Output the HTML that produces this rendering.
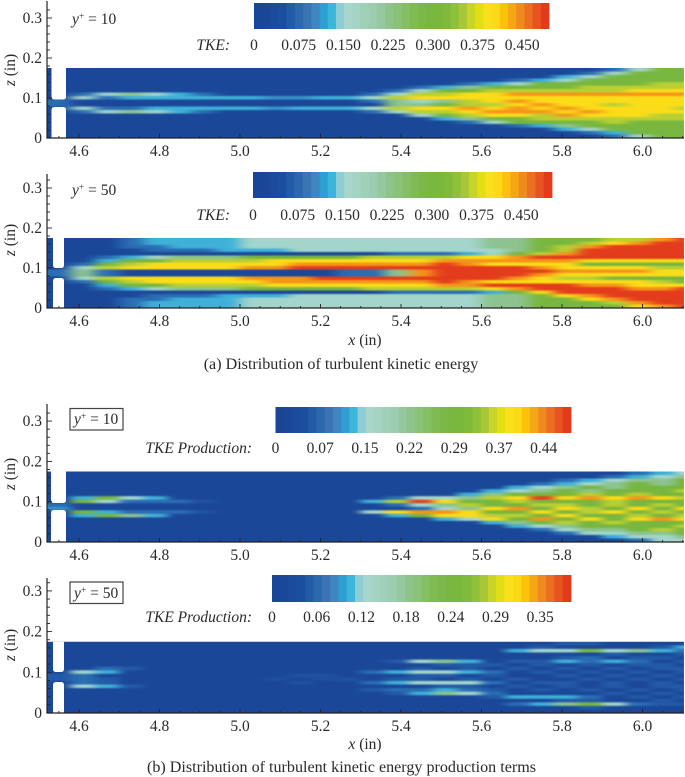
<!DOCTYPE html>
<html><head><meta charset="utf-8"><title>TKE distributions</title>
<style>
html,body{margin:0;padding:0;background:#fff;width:685px;height:777px;overflow:hidden}
svg{display:block}
text{font-family:"Liberation Serif",serif;font-size:15.5px;fill:#2a2a2a}
text.cap{font-size:16.1px}
.i{font-style:italic}
</style></head>
<body>
<svg id="chart" xmlns="http://www.w3.org/2000/svg" width="685" height="777" viewBox="0 0 685 777">
<defs>
<filter id="smear" filterUnits="userSpaceOnUse" x="-100" y="0" width="900" height="777" color-interpolation-filters="sRGB"><feGaussianBlur stdDeviation="7 0.9"/></filter>
<filter id="smear-fine" filterUnits="userSpaceOnUse" x="-100" y="0" width="900" height="777" color-interpolation-filters="sRGB"><feGaussianBlur stdDeviation="5 0.7"/></filter>
</defs>
<g id="layer-fields"></g>
<g id="layer-axes"></g>
<g id="layer-bars"></g>
<text x="72" y="24"><tspan class="i">y</tspan><tspan dy="-5" font-size="9.5">+</tspan><tspan dy="5"> = 10</tspan></text>
<text x="72" y="195"><tspan class="i">y</tspan><tspan dy="-5" font-size="9.5">+</tspan><tspan dy="5"> = 50</tspan></text>
<rect x="70" y="408.5" width="53" height="21.5" fill="#fff" stroke="#444" stroke-width="1.2"/>
<text x="74" y="424"><tspan class="i">y</tspan><tspan dy="-5" font-size="9.5">+</tspan><tspan dy="5"> = 10</tspan></text>
<rect x="70" y="582" width="53" height="21.5" fill="#fff" stroke="#444" stroke-width="1.2"/>
<text x="74" y="598"><tspan class="i">y</tspan><tspan dy="-5" font-size="9.5">+</tspan><tspan dy="5"> = 50</tspan></text>
<text class="i" x="230" y="50" text-anchor="end">TKE:</text>
<text class="i" x="230" y="220" text-anchor="end">TKE:</text>
<text class="i" x="252" y="453" text-anchor="end">TKE Production:</text>
<text class="i" x="252" y="622" text-anchor="end">TKE Production:</text>
<text x="365" y="345" text-anchor="middle"><tspan class="i">x</tspan> (in)</text>
<text x="365" y="749" text-anchor="middle"><tspan class="i">x</tspan> (in)</text>
<text class="cap" x="341" y="369" text-anchor="middle">(a) Distribution of turbulent kinetic energy</text>
<text class="cap" x="341.5" y="772" text-anchor="middle">(b) Distribution of turbulent kinetic energy production terms</text>
</svg>
<script>
// Field values: each inner array is one vertical slice (x = 4.55, 4.61 ... 6.11 in),
// listed top to bottom (z = 0.175 ... 0 in) in colour-level units 0-9.
var tkeY10 = [
[0,0,0,0,0,0,0,0,0,1,1,0,0,0,0,0,0,0,0,0],
[0,0,0,0,0,0,0,1,3,0,0,3,1,0,0,0,0,0,0,0],
[0,0,0,0,0,0,0,3,1,0,0,1,3,0,0,0,0,0,0,0],
[0,0,0,0,0,0,0,4,2,0,0,1,4,0,0,0,0,0,0,0],
[0,0,0,0,0,0,0,3,2,0,0,2,3,0,0,0,0,0,0,0],
[0,0,0,0,0,0,0,2,2,0,0,2,2,0,0,0,0,0,0,0],
[0,0,0,0,0,0,0,1,2,0,0,2,1,0,0,0,0,0,0,0],
[0,0,0,0,0,0,0,0,2,0,0,2,0,0,0,0,0,0,0,0],
[0,0,0,0,0,0,0,0,2,0,0,2,0,0,0,0,0,0,0,0],
[0,0,0,0,0,0,0,0,1.5,0,0,1.5,0,0,0,0,0,0,0,0],
[0,0,0,0,0,0,0,0,1.5,0,0,2,0,0,0,0,0,0,0,0],
[0,0,0,0,0,0,0,0,2,0,0,2,0,0,0,0,0,0,0,0],
[0,0,0,0,0,0,0,0,2,0,0,2,0,0,0,0,0,0,0,0],
[0,0,0,0,0,0,0,1,3,1,0,3,1,0,0,0,0,0,0,0],
[0,0,0,0,0,0,1,3,6,4,4,6,3,0,0,0,0,0,0,0],
[0,0,0,0,0,1,3,6,7,3,4,7,6,3,0,0,0,0,0,0],
[0,0,0,0,0,2,5,6,7,4,5,7,6,5,2,0,0,0,0,0],
[0,0,0,0,1,4,5,7,7,6,6,8,7,6,4,1,0,0,0,0],
[0,0,0,0,2,5,6,7,7,7,6,7,8,7,5,3,0,0,0,0],
[0,0,0,1,3,5,6,8,7,8,7,8,8,7,5,5,1,0,0,0],
[0,0,0,2,5,5,6,8,7,7,8,7,8,6,6,5,2,0,0,0],
[0,0,2,3,5,5,6,8,7,7,7,8,7,8,6,5,4,2,0,0],
[0,1,3,5,5,6,6,8,7,7,7,7,8,7,6,5,5,3,1,0],
[1,3,5,5,5,6,6,8,7,7,6,7,7,7,6,6,5,5,2,1],
[3,5,5,5,5,6,7,8,7,7,7,7,7,7,6,5,5,5,5,3],
[5,5,5,5,6,6,7,8,7,7,7,7,7,6,6,5,5,5,5,5],
[5,5,5,5,6,6,7,8,7,7,7,6,7,6,6,5,5,5,5,5]
];
var tkeY50 = [
[0,0,0,0,0,0,0,0,0,1,1,0,0,0,0,0,0,0,0,0],
[0,0,0,0,0,0,0,1,3,4,4,3,1,0,0,0,0,0,0,0],
[0,0,0,0,0,1,2,5,6,1,1,6,5,2,1,0,0,0,0,0],
[1,1,1,0,0,2,5,6,7,0,0,7,6,5,2,0,0,1,1,1],
[2,2,1,1,0,3,5,7,7,0,0,7,7,5,3,0,1,1,2,2],
[2,2,2,1,0,4,6,7,7,0,0,7,7,6,4,0,1,2,2,2],
[2,2,2,1,0,4,6,7,7,0,0,7,7,6,4,0,1,2,2,2],
[2,2,2,2,0,4,6,7,7,0,0,7,7,6,4,0,2,2,2,2],
[3,3,3,2,0,5,6,7,8,0,0,8,7,6,5,0,2,3,3,3],
[3,3,3,2,0,5,7,7,8,0,0,8,8,7,5,0,2,3,3,3],
[3,3,3,3,0,5,7,8,9,0,0,8,8,7,5,0,3,3,3,3],
[3,3,3,3,0,5,7,8,9,0,0,9,8,7,5,0,3,3,3,3],
[3,3,3,3,0,5,7,8,9,1,1,9,8,7,5,0,3,3,3,3],
[3,3,3,3,0,6,7,8,9,1,1,9,8,7,6,0,3,3,3,3],
[3,3,3,3,1,6,7,8,9,4,4,9,8,7,6,1,3,3,3,3],
[3,3,3,3,1,6,7,8,9,8,8,9,8,7,6,1,3,3,3,3],
[3,3,3,3,1,6,8,9,9,9,9,9,9,8,6,1,3,3,3,3],
[3,3,3,3,2,7,8,8,9,9,9,9,8,8,6,1,3,3,3,3],
[4,4,4,3,3,7,8,7,9,9,9,9,7,9,7,2,4,4,4,4],
[4,4,4,4,5,8,8,7,9,9,9,8,7,9,8,5,4,4,4,4],
[5,5,5,5,6,9,8,7,8,9,8,7,7,9,9,7,5,5,5,5],
[5,5,6,6,8,9,8,7,7,8,7,6,7,9,9,9,7,5,5,5],
[5,6,8,9,9,9,7,5,7,8,7,6,7,8,9,9,8,7,5,5],
[6,7,9,9,9,9,7,5,7,8,7,5,7,8,9,9,9,8,6,5],
[6,8,9,9,9,9,7,5,7,8,7,5,7,7,8,9,9,9,8,7],
[8,9,9,9,9,9,7,5,6,7,7,5,6,7,8,9,9,9,9,8],
[9,9,9,9,9,9,7,5,6,7,7,5,5,7,9,9,9,9,9,9]
];
var prodY10 = [
[0,0,0,0,0,0,0,0,0,1,1.5,0,0,0,0,0,0,0,0,0],
[0,0,0,0,0,0,0,2,5,0,0,5,2,0,0,0,0,0,0,0],
[0,0,0,0,0,0,0,5,3,0,0,2,5,0,0,0,0,0,0,0],
[0,0,0,0,0,0,0,3,1,0,0,1,4,0,0,0,0,0,0,0],
[0,0,0,0,0,0,0,2,1,0,0,1,2,0,0,0,0,0,0,0],
[0,0,0,0,0,0,0,0,1,0,0,1,0,0,0,0,0,0,0,0],
[0,0,0,0,0,0,0,0,0.3,0,0,0.3,0,0,0,0,0,0,0,0],
[0,0,0,0,0,0,0,0,0,0,0,0,0,0,0,0,0,0,0,0],
[0,0,0,0,0,0,0,0,0,0,0,0,0,0,0,0,0,0,0,0],
[0,0,0,0,0,0,0,0,0,0,0,0,0,0,0,0,0,0,0,0],
[0,0,0,0,0,0,0,0,0,0,0,0,0,0,0,0,0,0,0,0],
[0,0,0,0,0,0,0,0,0,0,0,0,0,0,0,0,0,0,0,0],
[0,0,0,0,0,0,0,0,0,0,0,0,0,0,0,0,0,0,0,0],
[0,0,0,0,0,0,0,0,2,0,0,3,0,0,0,0,0,0,0,0],
[0,0,0,0,0,0,0,1,6,1,0,7,2,0,0,0,0,0,0,0],
[0,0,0,0,0,0,0,3,9,3,1,8,5,0,0,0,0,0,0,0],
[0,0,0,0,0,0,0,3,7,4,3,8,7,2,0,0,0,0,0,0],
[0,0,0,0,0,0,2,4,5,6,4,7,7,3,0,0,0,0,0,0],
[0,0,0,0,0,2,4,6,5,5,7,5,6,7,2,0,0,0,0,0],
[0,0,0,0,2,3,5,7,6,5,8,5,6,5,4,2,0,0,0,0],
[0,0,0,1,3,4,5,9,5,6,5,7,5,8,5,3,1,0,0,0],
[0,0,1,2,4,5,5,7,5,6,7,5,7,5,6,4,3,1,0,0],
[0,0,2,3,5,4,6,8,5,5,6,6,5,7,5,5,4,3,0,0],
[0,1,3,4,4,5,5,7,6,6,5,7,5,5,6,5,4,3,2,0],
[1,2,4,5,5,5,6,8,5,5,7,5,6,7,5,5,5,4,3,1],
[2,3,4,4,5,5,5,7,5,6,5,6,5,8,5,5,6,4,3,3],
[3,4,5,5,5,6,5,6,5,5,7,5,6,7,5,6,5,5,4,3]
];
var prodY50 = [
[0,0,0,0,0,0,0,0,0,0.5,0.5,0,0,0,0,0,0,0,0,0],
[0,0,0,0,0,0,0,0,3,1,1,1,3,0,0,0,0,0,0,0],
[0,0,0,0,0,0,0,1,2,0,0.5,0.5,2,0,0,0,0,0,0,0],
[0,0,0,0,0,0,0,0.5,0,0,0,0,0.5,0,0,0,0,0,0,0],
[0,0,0,0,0,0,0,0,0,0,0,0,0,0,0,0,0,0,0,0],
[0,0,0,0,0,0,0,0,0,0,0,0,0,0,0,0,0,0,0,0],
[0,0,0,0,0,0,0,0,0,0,0,0,0,0,0,0,0,0,0,0],
[0,0,0,0,0,0,0,0,0,0,0,0,0,0,0,0,0,0,0,0],
[0,0,0,0,0,0,0,0,0,0,0,0,0,0,0,0,0,0,0,0],
[0,0,0,0,0,0,0,0,0,0,0.2,0,0,0,0,0,0,0,0,0],
[0,0,0,0,0,0,0,0,0,0.3,0,0.3,0,0,0,0,0,0,0,0],
[0,0,0,0,0,0,0,0,0,0.3,0.2,0,0,0,0,0,0,0,0,0],
[0,0,0,0,0,0,0,0,0,0,0.3,0,0,0,0,0,0,0,0,0],
[0,0,0,0,0,0,0,0,1,0,0,1,0,0.5,0,0,0,0,0,0],
[0,0,0,0,0,0.5,0,0,2,0,0.5,2,0,1,0.5,0,0,0,0,0],
[0,0,0,0,0,3,0,0.5,3,0.5,0.5,3,0,1,2,0,0,0,0,0],
[0,0,0,0,0,4,0.5,0,3,0.5,0,3,0.5,2,4,0,0,0,0,0],
[0,0,0,0,0,2,0.5,0.5,2,0,0.5,3,0.5,1,3,0,0,0,0,0],
[0,0,0,0,0,0,0.5,0,1,0.5,0,1,0,0.5,1,0.5,0,0,0,0],
[0,0,2,0,0,0.5,0,0.5,0,0,0.5,0,0.5,0,0,2,0,1,0,0],
[0,0.5,3,0,0,0.5,0.5,0,0.5,0,0,0.5,0,0.5,0,2,0,2,0,0],
[0.5,0,3,0,0.5,2,0,0.5,0,0.5,0,0.5,0.5,0,0,2,0.5,4,0,0],
[0.5,0,5,0,1,1,0.5,0,0.5,0,0.5,0,0,0.5,0,1,0.5,5,0.5,0],
[0,0,3,0.5,0,2,0,0.5,0,0.5,0,0.5,0.5,0,0.5,0,0,3,0,0],
[0,0,4,0,0.5,1,0.5,0,0.5,0,0.5,0,0,0.5,0,0.5,0,1,0,0],
[0,0.5,2,0,0.5,0,0.5,0.5,0,0.5,0,0.5,0.5,0,0.5,0,0.5,0.5,0,0],
[0,2,1,0.5,0,0.5,0,0.5,0.5,0,0.5,0,0.5,0.5,0,0.5,0,0.5,0,0]
];
// Tick labels and colorbar labels
var xTickLabels = ["4.6","4.8","5.0","5.2","5.4","5.6","5.8","6.0"];
var xTickValues = [4.6,4.8,5.0,5.2,5.4,5.6,5.8,6.0];
var zTickLabels = ["0","0.1","0.2","0.3"];
var zTickValues = [0,0.1,0.2,0.3];
var tkeBarLabels = ["0","0.075","0.150","0.225","0.300","0.375","0.450"];
var prodY10BarLabels = ["0","0.07","0.15","0.22","0.29","0.37","0.44"];
var prodY50BarLabels = ["0","0.06","0.12","0.18","0.24","0.29","0.35"];
// Colour scales
var levelColors = ["#1b4798","#2a6db3","#3fb0d8","#a3d5cc","#8cc38f","#77b63f","#b9cf33","#fbdc18","#f4951a","#e33c1c"];
var barColors = ["#1a4696","#1b4799","#1c4a9c","#1c4e9f","#225ca6","#2c68ad","#3a74b4","#3f85c0","#2f9ed1","#3bb6da","#8dcdd3","#a8d6cb","#a3d3c2","#a0d0b8","#9ccdb0","#94c9a0","#8ec48a","#8ac278","#84bf64","#7fbb52","#7ab84a","#78b742","#7ab83c","#7fba3c","#8fc03a","#a7c738","#c9d42a","#e3de14","#fae01a","#fbd916","#fac20c","#f5a614","#ef8a1e","#ea6f20","#e85420","#e33a1b"];

var NS = "http://www.w3.org/2000/svg";
var fieldsLayer = document.getElementById("layer-fields");
var axesLayer = document.getElementById("layer-axes");
var barsLayer = document.getElementById("layer-bars");
var panels = [
 {id:"a10",field:tkeY10,y0:138,pxPerZ:400,gap:[51.5,66],throat:[99.5,107],bar:[254,549,3,29],barLabels:tkeBarLabels,barBase:50,top:1,blur:"smear"},
 {id:"a50",field:tkeY50,y0:308,pxPerZ:400,gap:[53,64],throat:[268,278],bar:[253,552,172,198],barLabels:tkeBarLabels,barBase:220,top:174,blur:"smear"},
 {id:"b10",field:prodY10,y0:542,pxPerZ:403,gap:[51,66],throat:[503,510],bar:[275.5,571,407,433],barLabels:prodY10BarLabels,barBase:453,top:404,blur:"smear-fine"},
 {id:"b50",field:prodY50,y0:713,pxPerZ:407,gap:[53,64],throat:[672,682],bar:[272,571,575,602],barLabels:prodY50BarLabels,barBase:622,top:578,blur:"smear-fine"}
];
function xScale(x){return 79 + (x-4.6)*402.5;}
function zScale(p,z){return p.y0 - z*p.pxPerZ;}
function levelColor(v){
  var t = Math.max(0,Math.min(9,v)), a = Math.floor(t), b = Math.min(9,a+1), f = t-a;
  var ca = levelColors[a], cb = levelColors[b], out = "rgb(";
  for (var i=0;i<3;i++){
    var pa = parseInt(ca.substr(1+2*i,2),16), pb = parseInt(cb.substr(1+2*i,2),16);
    out += Math.round(pa+(pb-pa)*f) + (i<2?",":")");
  }
  return out;
}
var xStart = 4.52, xStep = 0.06, zTop = 0.175;
var xEnd = xScale(6.103);
function node(tag,attrs,parent){
  var el = document.createElementNS(NS,tag);
  for (var k in attrs) el.setAttribute(k,attrs[k]);
  parent.appendChild(el);
  return el;
}
panels.forEach(function(p){
  var left = xScale(xStart), top = zScale(p,zTop), h = p.y0-top;
  // clip
  var clip = node("clipPath",{id:"clip-"+p.id},fieldsLayer);
  node("rect",{x:left,y:top,width:xEnd-left,height:h},clip);
  var outer = node("g",{"clip-path":"url(#clip-"+p.id+")"},fieldsLayer);
  
  
  var g = node("g",{filter:"url(#"+p.blur+")"},outer);
  var nCols = p.field.length, nRows = p.field[0].length, rowH = h/nRows;
  p.field.forEach(function(col,j){
    var x = xScale(xStart+j*xStep), w = xScale(xStart+(j+1)*xStep)-x;
    col.forEach(function(v,i){
      var y = top+i*rowH, ch = rowH+0.4, cx = x, cw = w+0.4;
      if (j===0){cx-=40;cw+=40;}
      if (j===nCols-1){cw+=40;}
      if (i===0){y-=10;ch+=10;}
      if (i===nRows-1){ch+=10;}
      var cell = node("rect",{x:cx,y:y,width:cw,height:ch,fill:levelColor(v)},g);
      
      
    });
  });
  // nozzle gaps
  var a=p.gap[0], b=p.gap[1], t0=p.throat[0], t1=p.throat[1], r=3;
  var gapTop = node("path",{d:"M"+a+" "+(top-1)+"L"+b+" "+(top-1)+"L"+b+" "+(t0-r)+"Q"+b+" "+t0+" "+(b-r)+" "+t0+"L"+(a+r)+" "+t0+"Q"+a+" "+t0+" "+a+" "+(t0-r)+"Z",fill:"#fff"},outer);
  
  
  var gapBot = node("path",{d:"M"+a+" "+(p.y0+1)+"L"+b+" "+(p.y0+1)+"L"+b+" "+(t1+r)+"Q"+b+" "+t1+" "+(b-r)+" "+t1+"L"+(a+r)+" "+t1+"Q"+a+" "+t1+" "+a+" "+(t1+r)+"Z",fill:"#fff"},outer);
  
  
  // axes
  var axisY = node("line",{x1:47,x2:47,y1:p.top,y2:p.y0,stroke:"#222","stroke-width":1.2},axesLayer);
  
  
  var axisX = node("line",{x1:46.4,x2:684,y1:p.y0,y2:p.y0,stroke:"#222","stroke-width":1.3},axesLayer);
  
  
  for (var m=0;m<=16;m++){
    var zv=m*0.02, yy=zScale(p,zv);
    if (yy<p.top) continue;
    var major=(m%5===0);
    var zt = node("line",{x1:47,x2:47+(major?5:3),y1:yy,y2:yy,stroke:"#222","stroke-width":0.9},axesLayer);
    
    
  }
  for (var q=0;q<=31;q++){
    var xv=4.55+q*0.05, xx=xScale(xv);
    if (xx>684) continue;
    var maj=(q%4===1);
    var xt = node("line",{x1:xx,x2:xx,y1:p.y0,y2:p.y0-(maj?4:2),stroke:"#222","stroke-width":0.9},axesLayer);
    
    
  }
  zTickValues.forEach(function(z,i){
    var t = node("text",{x:42,y:zScale(p,z)+5,"text-anchor":"end"},axesLayer);
    
    
    t.textContent = zTickLabels[i];
  });
  xTickValues.forEach(function(x,i){
    var t = node("text",{x:xScale(x),y:p.y0+18,"text-anchor":"middle"},axesLayer);
    
    
    t.textContent = xTickLabels[i];
  });
  var zTitle = node("text",{transform:"translate(15,"+(p.y0-68)+") rotate(-90)","text-anchor":"middle"},axesLayer);
  
  
  var zi = node("tspan",{"class":"i"},zTitle);
  zi.textContent = "z";
  var zr = node("tspan",{},zTitle);
  zr.textContent = " (in)";
  // colorbar
  var bx0=p.bar[0], bx1=p.bar[1], by0=p.bar[2], by1=p.bar[3], bw=(bx1-bx0)/barColors.length;
  barColors.forEach(function(c,i){
    var band = node("rect",{x:bx0+i*bw,y:by0,width:bw+0.4,height:by1-by0,fill:c},barsLayer);
    
    
  });
  p.barLabels.forEach(function(s,i){
    var t = node("text",{x:bx0+i*44.7,y:p.barBase,"text-anchor":"middle"},barsLayer);
    
    
    t.textContent = s;
  });
});
</script>
</body></html>
